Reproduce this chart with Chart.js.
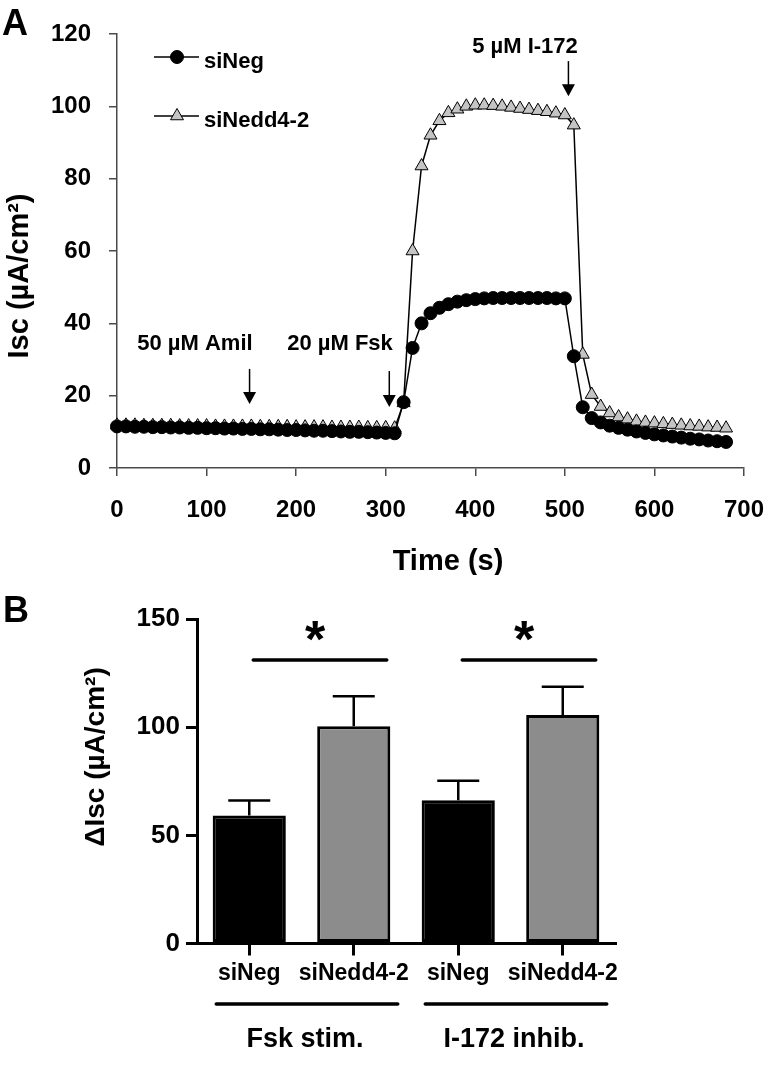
<!DOCTYPE html>
<html>
<head>
<meta charset="utf-8">
<script src="https://cdn.jsdelivr.net/npm/chart.js@4.4.0/dist/chart.umd.min.js"></script>
<style>
  body { margin: 0; background: #fff; }
  #panelA { position: absolute; left: 0; top: 0; }
  #panelB { position: absolute; left: 0; top: 575px; }
</style>
</head>
<body>
<canvas id="panelA" width="784" height="575"></canvas>
<canvas id="panelB" width="784" height="506"></canvas>
<script>
// Panel A: Isc en el tiempo (s)
const tiempos = [0, 10, 20, 30, 40, 50, 60, 70, 80, 90, 100, 110, 120, 130, 140, 150, 160, 170, 180, 190,
  200, 210, 220, 230, 240, 250, 260, 270, 280, 290, 300, 310, 320, 330, 340, 350, 360, 370, 380, 390,
  400, 410, 420, 430, 440, 450, 460, 470, 480, 490, 500, 510, 520, 530, 540, 550, 560, 570, 580, 590,
  600, 610, 620, 630, 640, 650, 660, 670, 680];
const valoresSiNeg = [11.5, 11.5, 11.4, 11.4, 11.3, 11.3, 11.2, 11.2, 11.1, 11.1, 11.0, 11.0, 10.9, 10.9, 10.8, 10.8,
  10.7, 10.7, 10.6, 10.5, 10.5, 10.4, 10.3, 10.3, 10.2, 10.1, 10.0, 10.0, 9.9, 9.8, 9.7, 9.6,
  18.2, 33.2, 40.0, 42.8, 44.3, 45.3, 46.0, 46.4, 46.7, 46.9, 47.0, 47.0, 47.0, 47.0, 47.0, 47.0, 47.0, 46.9, 46.9,
  30.9, 16.8, 13.8, 12.6, 11.7, 11.1, 10.6, 10.1, 9.7, 9.3, 9.0, 8.7, 8.4, 8.1, 7.9, 7.6, 7.4, 7.2];
const valoresSiNedd = [11.8, 11.8, 11.8, 11.7, 11.7, 11.7, 11.7, 11.6, 11.6, 11.6, 11.6, 11.5, 11.5, 11.5, 11.5, 11.5,
  11.4, 11.4, 11.4, 11.4, 11.3, 11.3, 11.3, 11.3, 11.2, 11.2, 11.2, 11.2, 11.1, 11.1, 11.1, 11.0,
  18.0, 60.0, 83.5, 92.0, 96.0, 98.2, 99.2, 100.0, 100.3, 100.3, 100.2, 100.0, 99.7, 99.4, 99.1, 98.8, 98.5, 98.1, 97.6,
  94.8, 31.4, 20.3, 17.0, 15.2, 14.1, 13.5, 12.9, 12.6, 12.4, 12.2, 12.0, 11.8, 11.6, 11.5, 11.3, 11.2, 11.0];
const ticksTiempo = [0, 100, 200, 300, 400, 500, 600, 700];
const ticksIsc = [0, 20, 40, 60, 80, 100, 120];

// Panel B: delta Isc
const categorias = ["siNeg", "siNedd4-2", "siNeg", "siNedd4-2"];
const valoresDeltaIsc = [59.2, 100.4, 66.2, 105.6];
const erroresDeltaIsc = [6.9, 13.9, 9.0, 13.1];
const grupos = ["Fsk stim.", "I-172 inhib."];
const ticksDeltaIsc = [0, 50, 100, 150];

const fuente = "'Liberation Sans', Arial, sans-serif";
Chart.defaults.font.family = fuente;
Chart.defaults.font.weight = "bold";
Chart.defaults.color = "#000";

function flecha(ctx, x, yIni, yFin) {
  ctx.lineWidth = 1.5;
  ctx.beginPath();
  ctx.moveTo(x, yIni);
  ctx.lineTo(x, yFin - 10);
  ctx.stroke();
  ctx.beginPath();
  ctx.moveTo(x - 6.5, yFin - 12);
  ctx.lineTo(x + 6.5, yFin - 12);
  ctx.lineTo(x, yFin);
  ctx.closePath();
  ctx.fill();
}

const extrasA = {
  id: "extrasA",
  afterDraw(chart) {
    const ctx = chart.ctx;
    const xs = chart.scales.x;
    const ys = chart.scales.y;
    ctx.save();
    ctx.fillStyle = "#000";
    ctx.strokeStyle = "#000";
    ctx.font = "bold 36px " + fuente;
    ctx.textAlign = "left";
    ctx.textBaseline = "alphabetic";
    ctx.fillText("A", 2, 35);

    ctx.font = "bold 29px " + fuente;
    ctx.save();
    ctx.translate(28, 276);
    ctx.rotate(-Math.PI / 2);
    ctx.textAlign = "center";
    ctx.fillText("Isc (µA/cm²)", 0, 0);
    ctx.restore();
    ctx.textAlign = "center";
    ctx.fillText("Time (s)", 448, 570);

    // leyenda
    const filas = [
      { texto: "siNeg", y: 57, base: 68, estilo: "circle", radio: 6.5, relleno: "#000" },
      { texto: "siNedd4-2", y: 116, base: 127, estilo: "triangle", radio: 7.5, relleno: "#c4c4c4" }
    ];
    filas.forEach(f => {
      ctx.lineWidth = 1.5;
      ctx.beginPath();
      ctx.moveTo(154, f.y);
      ctx.lineTo(199, f.y);
      ctx.stroke();
      ctx.fillStyle = f.relleno;
      ctx.lineWidth = 1;
      Chart.helpers.drawPoint(ctx, { pointStyle: f.estilo, radius: f.radio, rotation: 0, borderWidth: 1 }, 177, f.y);
      ctx.fillStyle = "#000";
      ctx.font = "bold 22px " + fuente;
      ctx.textAlign = "left";
      ctx.fillText(f.texto, 204, f.base);
    });

    // anotaciones con flechas
    const notas = [
      { texto: "50 µM Amil", tx: 87, ty: 32.6, fx: 148, fy1: 27.4, fy2: 17.7 },
      { texto: "20 µM Fsk", tx: 249, ty: 32.6, fx: 304, fy1: 26.8, fy2: 16.9 },
      { texto: "5 µM I-172", tx: 455.5, ty: 114.7, fx: 504, fy1: 112.5, fy2: 102.8 }
    ];
    ctx.font = "bold 22px " + fuente;
    ctx.textAlign = "center";
    notas.forEach(n => {
      ctx.fillText(n.texto, xs.getPixelForValue(n.tx), ys.getPixelForValue(n.ty));
      flecha(ctx, xs.getPixelForValue(n.fx), ys.getPixelForValue(n.fy1), ys.getPixelForValue(n.fy2));
    });
    ctx.restore();
  }
};

function prepararConfiguracionA() {
  const puntosNeg = tiempos.map((t, i) => ({ x: t, y: valoresSiNeg[i] }));
  const puntosNedd = tiempos.map((t, i) => ({ x: t, y: valoresSiNedd[i] }));
  const ejeGris = "#4a4a4a";
  return {
    type: "line",
    data: {
      datasets: [
        {
          label: "siNeg",
          data: puntosNeg,
          borderColor: "#000",
          borderWidth: 1.5,
          tension: 0,
          pointStyle: "circle",
          pointRadius: 6.5,
          pointBackgroundColor: "#000",
          pointBorderColor: "#000",
          pointBorderWidth: 1,
          clip: false
        },
        {
          label: "siNedd4-2",
          data: puntosNedd,
          borderColor: "#000",
          borderWidth: 1.5,
          tension: 0,
          pointStyle: "triangle",
          pointRadius: 7.5,
          pointBackgroundColor: "#c4c4c4",
          pointBorderColor: "#000",
          pointBorderWidth: 1,
          clip: false
        }
      ]
    },
    options: {
      responsive: false,
      animation: false,
      events: [],
      layout: { padding: { left: 0, right: 40, top: 34, bottom: 0 } },
      plugins: { legend: { display: false }, tooltip: { enabled: false } },
      scales: {
        x: {
          type: "linear",
          min: 0,
          max: 700,
          afterBuildTicks: s => { s.ticks = ticksTiempo.map(v => ({ value: v })); },
          afterFit: s => { s.height = 107; },
          ticks: { font: { size: 24, weight: "bold" }, padding: 20, color: "#000" },
          grid: { drawOnChartArea: false, tickLength: 8, color: ejeGris, lineWidth: 1.5 },
          border: { color: ejeGris, width: 1.5 }
        },
        y: {
          min: 0,
          max: 120,
          afterBuildTicks: s => { s.ticks = ticksIsc.map(v => ({ value: v })); },
          afterFit: s => { s.width = 117; },
          ticks: { font: { size: 24, weight: "bold" }, padding: 18, color: "#000" },
          grid: { drawOnChartArea: false, tickLength: 8, color: ejeGris, lineWidth: 1.5 },
          border: { color: ejeGris, width: 1.5 }
        }
      }
    },
    plugins: [extrasA]
  };
}

const extrasB = {
  id: "extrasB",
  afterDraw(chart) {
    const ctx = chart.ctx;
    const xs = chart.scales.x;
    const ys = chart.scales.y;
    ctx.save();
    ctx.fillStyle = "#000";
    ctx.strokeStyle = "#000";
    ctx.font = "bold 36px " + fuente;
    ctx.textAlign = "left";
    ctx.textBaseline = "alphabetic";
    ctx.fillText("B", 3, 47);

    ctx.font = "bold 28px " + fuente;
    ctx.save();
    ctx.translate(104, 182);
    ctx.rotate(-Math.PI / 2);
    ctx.textAlign = "center";
    ctx.fillText("ΔIsc (µA/cm²)", 0, 0);
    ctx.restore();

    // barras de error (solo hacia arriba)
    ctx.lineWidth = 2.5;
    valoresDeltaIsc.forEach((v, i) => {
      const cx = xs.getPixelForValue(i);
      const y0 = ys.getPixelForValue(v);
      const y1 = ys.getPixelForValue(v + erroresDeltaIsc[i]);
      ctx.beginPath();
      ctx.moveTo(cx, y0);
      ctx.lineTo(cx, y1);
      ctx.moveTo(cx - 21, y1);
      ctx.lineTo(cx + 21, y1);
      ctx.stroke();
    });

    // significancia
    ctx.lineWidth = 3.5;
    ctx.lineCap = "round";
    const ySig = ys.getPixelForValue(131);
    [[0, 1], [2, 3]].forEach(par => {
      const a = xs.getPixelForValue(par[0]) + 4;
      const b = xs.getPixelForValue(par[1]) + 33;
      ctx.beginPath();
      ctx.moveTo(a, ySig);
      ctx.lineTo(b, ySig);
      ctx.stroke();
      ctx.font = "bold 52px " + fuente;
      ctx.textAlign = "center";
      ctx.fillText("*", (a + b) / 2 - 5, ySig - 3);
    });

    // grupos
    const yLinea = 429;
    grupos.forEach((g, k) => {
      const a = xs.getPixelForValue(2 * k) - 33;
      const b = xs.getPixelForValue(2 * k + 1) + 44;
      ctx.beginPath();
      ctx.moveTo(a, yLinea);
      ctx.lineTo(b, yLinea);
      ctx.stroke();
      ctx.font = "bold 27px " + fuente;
      ctx.textAlign = "center";
      ctx.fillText(g, (a + b) / 2 - 2, 472);
    });
    ctx.restore();
  }
};

function prepararConfiguracionB() {
  return {
    type: "bar",
    data: {
      labels: categorias,
      datasets: [
        {
          data: valoresDeltaIsc,
          backgroundColor: ["#000", "#8c8c8c", "#000", "#8c8c8c"],
          borderColor: "#000",
          borderWidth: 3,
          borderSkipped: false,
          barPercentage: 0.70,
          categoryPercentage: 1
        }
      ]
    },
    options: {
      responsive: false,
      animation: false,
      events: [],
      layout: { padding: { left: 0, right: 169, top: 44, bottom: 0 } },
      plugins: { legend: { display: false }, tooltip: { enabled: false } },
      scales: {
        x: {
          afterFit: s => { s.height = 137.5; },
          ticks: { font: { size: 23, weight: "bold" }, padding: 4, color: "#000", autoSkip: false, maxRotation: 0, minRotation: 0 },
          grid: { offset: false, drawOnChartArea: false, tickLength: 12, color: "#000", lineWidth: 3 },
          border: { color: "#000", width: 3 }
        },
        y: {
          min: 0,
          max: 150,
          afterBuildTicks: s => { s.ticks = ticksDeltaIsc.map(v => ({ value: v })); },
          afterFit: s => { s.width = 197; },
          ticks: { font: { size: 26, weight: "bold" }, padding: 6, color: "#000" },
          grid: { drawOnChartArea: false, tickLength: 11, color: "#000", lineWidth: 3 },
          border: { color: "#000", width: 3 }
        }
      }
    },
    plugins: [extrasB]
  };
}

function renderGraficas() {
  new Chart(document.getElementById("panelA"), prepararConfiguracionA());
  new Chart(document.getElementById("panelB"), prepararConfiguracionB());
}

renderGraficas();
</script>
</body>
</html>
